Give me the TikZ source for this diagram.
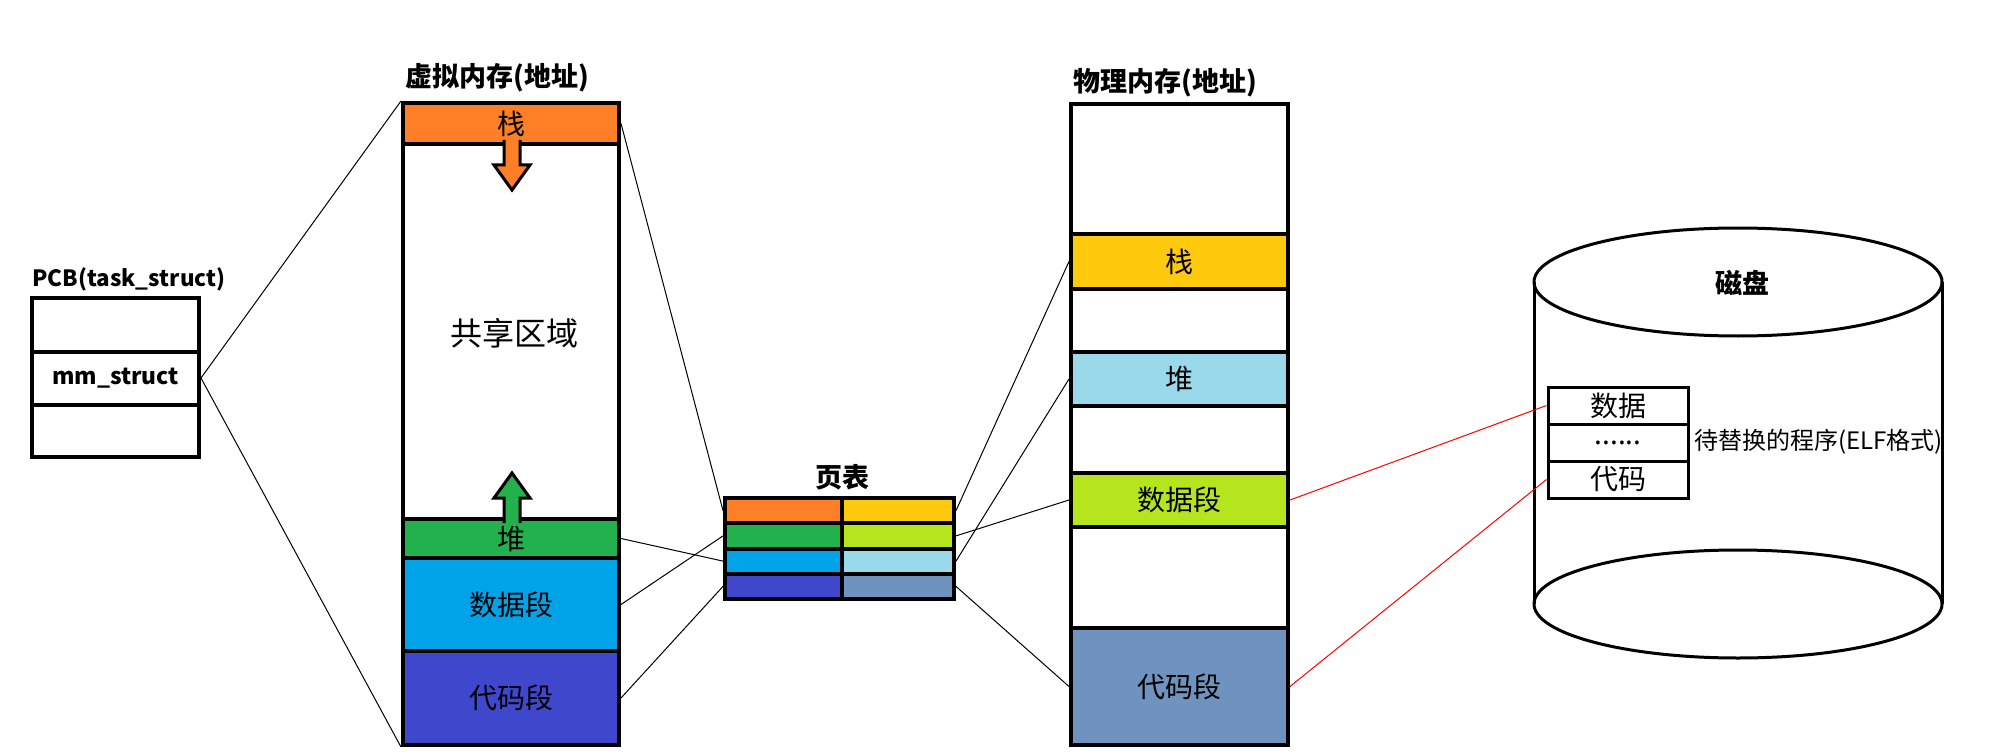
\documentclass[tikz,border=0pt]{standalone}
\usepackage{fontspec}
\setmainfont{Noto Sans CJK SC}
\usetikzlibrary{positioning}
\definecolor{porange}{HTML}{FF7F27}
\definecolor{pgreen}{HTML}{22B14C}
\definecolor{pblue}{HTML}{00A2E8}
\definecolor{pindigo}{HTML}{3F48CC}
\definecolor{pyellow}{HTML}{FFC90E}
\definecolor{plime}{HTML}{B5E61D}
\definecolor{pskyblue}{HTML}{99D9EA}
\definecolor{psteel}{HTML}{7092BE}

\begin{document}
\begin{tikzpicture}[x=0.5pt,y=-0.5pt,
  seg/.style={draw,line width=2pt,inner sep=0pt,font=\fontsize{14}{16}\selectfont},
  cell/.style={draw,line width=2pt,inner sep=0pt,minimum height=12.6pt},
  disk/.style={draw,line width=1.5pt,inner sep=0pt,minimum width=70pt,minimum height=18.5pt,font=\fontsize{14}{16}\selectfont},
  ttl/.style={font=\bfseries\fontsize{13.5}{16}\selectfont},
  link/.style={line width=0.5pt},
  redlink/.style={red,line width=0.5pt}]
\useasboundingbox (0,0) rectangle (1990,754);

% PCB
\node[ttl,font=\bfseries\fontsize{11.2}{14}\selectfont,anchor=west,inner sep=0pt] (pcbtitle) at (32,279) {PCB(task\_struct)};
\node[seg,minimum width=83.5pt,minimum height=79.5pt] (pcb) at (115.5,377.5) {};
\node[seg,minimum width=83.5pt,minimum height=26.5pt,font=\bfseries\fontsize{11.4}{14}\selectfont] (pcbmm) at (115.5,378) {mm\_struct};

% Virtual memory
\node[ttl] (vtitle) at (497,78) {虚拟内存(地址)};
\node[seg,minimum width=108pt,minimum height=321pt] (vmem) at (511,424) {};
\node[seg,fill=porange,minimum width=108pt,minimum height=20.5pt] (vstack) at (511,123.5) {栈};
\node[font=\fontsize{16}{18}\selectfont] (vshare) at (514,333) {共享区域};
\node[seg,fill=pgreen,minimum width=108pt,minimum height=19.5pt] (vheap) at (511,538.5) {堆};
\node[seg,fill=pblue,minimum width=108pt,minimum height=46.5pt] (vdata) at (511,604.5) {数据段};
\node[seg,fill=pindigo,minimum width=108pt,minimum height=47pt] (vcode) at (511,698) {代码段};
\draw[line width=1.5pt,fill=porange] (504,140) -- (504,165) -- (494,165) -- (512,190) -- (530,165) -- (520,165) -- (520,140);
\draw[line width=1.5pt,fill=pgreen] (504,523) -- (504,498) -- (494,498) -- (512,473) -- (530,498) -- (520,498) -- (520,523);

% Page table
\node[ttl] (pttitle) at (842,477) {页表};
\node[cell,fill=porange,minimum width=58.5pt] (pt1l) at (783.5,510.6) {};
\node[cell,fill=pyellow,minimum width=56pt] (pt1r) at (898,510.6) {};
\node[cell,fill=pgreen,minimum width=58.5pt] (pt2l) at (783.5,535.9) {};
\node[cell,fill=plime,minimum width=56pt] (pt2r) at (898,535.9) {};
\node[cell,fill=pblue,minimum width=58.5pt] (pt3l) at (783.5,561.1) {};
\node[cell,fill=pskyblue,minimum width=56pt] (pt3r) at (898,561.1) {};
\node[cell,fill=pindigo,minimum width=58.5pt] (pt4l) at (783.5,586.4) {};
\node[cell,fill=psteel,minimum width=56pt] (pt4r) at (898,586.4) {};

% Physical memory
\node[ttl] (ptitle) at (1165,83) {物理内存(地址)};
\node[seg,minimum width=108.5pt,minimum height=320.5pt] (pmem) at (1179.5,424.5) {};
\node[seg,fill=pyellow,minimum width=108.5pt,minimum height=27.5pt] (pstack) at (1179.5,261.5) {栈};
\node[seg,fill=pskyblue,minimum width=108.5pt,minimum height=27pt] (pheap) at (1179.5,379) {堆};
\node[seg,fill=plime,minimum width=108.5pt,minimum height=27pt] (pdata) at (1179.5,500) {数据段};
\node[seg,fill=psteel,minimum width=108.5pt,minimum height=58.5pt] (pcode) at (1179.5,686.5) {代码段};

% Disk
\draw[line width=1.5pt] (1738,282) ellipse [x radius=204, y radius=54];
\draw[line width=1.5pt] (1738,604) ellipse [x radius=204, y radius=54];
\draw[line width=1.5pt] (1534,282) -- (1534,604);
\draw[line width=1.5pt] (1942,282) -- (1942,604);
\node[ttl] (dtitle) at (1742,283) {磁盘};
\node[disk] (ddata) at (1618,405.5) {数据};
\node[disk,font=\fontsize{14}{16}\selectfont] (ddots) at (1618,442.5) {......};
\node[disk] (dcode) at (1618,479.5) {代码};
\node[anchor=west,inner sep=0pt,font=\fontsize{12}{14}\selectfont] (delf) at (1694,442) {待替换的程序(ELF格式)};

% Links
\draw[link] (pcbmm.east) -- (vmem.north west);
\draw[link] (pcbmm.east) -- (vmem.south west);
\draw[link] (vstack.east) -- (pt1l.west);
\draw[link] (vheap.east) -- (pt3l.west);
\draw[link] (vdata.east) -- (pt2l.west);
\draw[link] (vcode.east) -- (pt4l.west);
\draw[link] (pt1r.east) -- (pstack.west);
\draw[link] (pt2r.east) -- (pdata.west);
\draw[link] (pt3r.east) -- (pheap.west);
\draw[link] (pt4r.east) -- (pcode.west);
\draw[redlink] (pdata.east) -- (ddata.west);
\draw[redlink] (pcode.east) -- (dcode.west);
\end{tikzpicture}
\end{document}
